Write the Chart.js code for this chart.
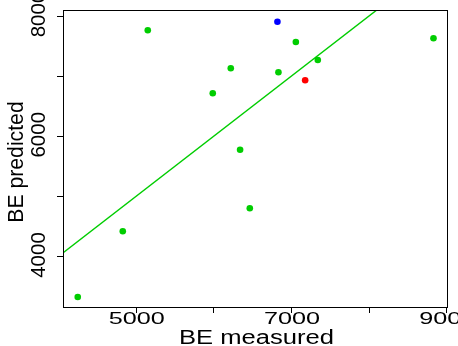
<!DOCTYPE html>
<html>
<head>
<meta charset="utf-8">
<script src="https://cdn.jsdelivr.net/npm/chart.js@4/dist/chart.umd.min.js"></script>
<style>
html, body { margin: 0; padding: 0; background: #fff; }
canvas { display: block; }
</style>
</head>
<body>
<canvas id="chart" width="458" height="346"></canvas>
<script>
// measured vs predicted values
const greenX = [4240, 4820, 5142, 7049, 8822, 6211, 6825, 7332, 5979, 6331, 6456];
const greenY = [3318, 4411, 7754, 7559, 7621, 7122, 7055, 7260, 6706, 5768, 4793];
const blueX = [6812];
const blueY = [7897];
const redX = [7169];
const redY = [6922];
// y = x reference line
const fitX = [3000, 10000];
const fitY = [3000, 10000];

const xTicks = [5000, 6000, 7000, 8000, 9000];
const xTickLabels = ['5000', '', '7000', '', '9000'];
const yTicks = [4000, 5000, 6000, 7000, 8000];
const yTickLabels = ['4000', '', '6000', '', '8000'];
const xTitle = 'BE measured';
const yTitle = 'BE predicted';

const green = '#00CD00';

function pts(xs, ys) {
    return xs.map((v, i) => ({ x: v, y: ys[i] }));
}

// text in R's output is stretched, so draw with separate x/y em sizes
function drawText(ctx, text, px, py, emX, emY, rotated) {
    ctx.save();
    ctx.translate(px, py);
    ctx.scale(emX / 100, emY / 100);
    if (rotated) ctx.rotate(-Math.PI / 2);
    ctx.font = '100px "Liberation Sans", Arial, sans-serif';
    ctx.fillStyle = '#000';
    ctx.textAlign = 'center';
    ctx.textBaseline = 'alphabetic';
    ctx.fillText(text, 0, 0);
    ctx.restore();
}

const rAxes = {
    id: 'rAxes',
    afterDraw(chart) {
        const { ctx, chartArea: a, scales } = chart;
        const xs = scales.x, ys = scales.y;
        ctx.save();
        ctx.strokeStyle = '#000';
        ctx.lineWidth = 1;
        ctx.strokeRect(a.left + 0.5, a.top - 0.5, a.right - a.left - 1, a.bottom - a.top);

        ctx.beginPath();
        xTicks.forEach(v => {
            const px = Math.round(xs.getPixelForValue(v)) - 0.5;
            ctx.moveTo(px, a.bottom);
            ctx.lineTo(px, a.bottom + 5);
        });
        yTicks.forEach(v => {
            const py = Math.round(ys.getPixelForValue(v)) + 0.5;
            ctx.moveTo(a.left, py);
            ctx.lineTo(a.left - 6, py);
        });
        ctx.stroke();
        ctx.restore();

        xTicks.forEach((v, i) => {
            if (xTickLabels[i]) drawText(ctx, xTickLabels[i], xs.getPixelForValue(v), a.bottom + 16, 25.2, 17.2, false);
        });
        yTicks.forEach((v, i) => {
            if (yTickLabels[i]) drawText(ctx, yTickLabels[i], a.left - 18, ys.getPixelForValue(v) - 1, 21, 20.5, true);
        });
        drawText(ctx, xTitle, (a.left + a.right) / 2 + 1, a.bottom + 36, 25.6, 19.5, false);
        drawText(ctx, yTitle, 22.7, (a.top + a.bottom) / 2 + 2.5, 22.3, 21.2, true);
    }
};

new Chart(document.getElementById('chart').getContext('2d'), {
    type: 'scatter',
    data: {
        datasets: [
            {
                label: 'blue',
                data: pts(blueX, blueY),
                backgroundColor: '#0000FF',
                pointRadius: 3.3,
                pointBorderWidth: 0,
                clip: false
            },
            {
                label: 'red',
                data: pts(redX, redY),
                backgroundColor: '#FF0000',
                pointRadius: 3.3,
                pointBorderWidth: 0,
                clip: false
            },
            {
                label: 'green',
                data: pts(greenX, greenY),
                backgroundColor: green,
                pointRadius: 3.3,
                pointBorderWidth: 0,
                clip: false
            },
            {
                label: 'fit',
                type: 'line',
                data: pts(fitX, fitY),
                borderColor: green,
                borderWidth: 1.4,
                pointRadius: 0,
                fill: false,
                clip: 0
            }
        ]
    },
    options: {
        responsive: false,
        animation: false,
        events: [],
        layout: {
            padding: { left: 63, top: 11, right: 10, bottom: 38 }
        },
        scales: {
            x: { type: 'linear', min: 4050, max: 9009, display: false },
            y: { type: 'linear', min: 3135, max: 8075, display: false }
        },
        plugins: {
            legend: { display: false },
            tooltip: { enabled: false }
        }
    },
    plugins: [rAxes]
});
</script>
</body>
</html>
